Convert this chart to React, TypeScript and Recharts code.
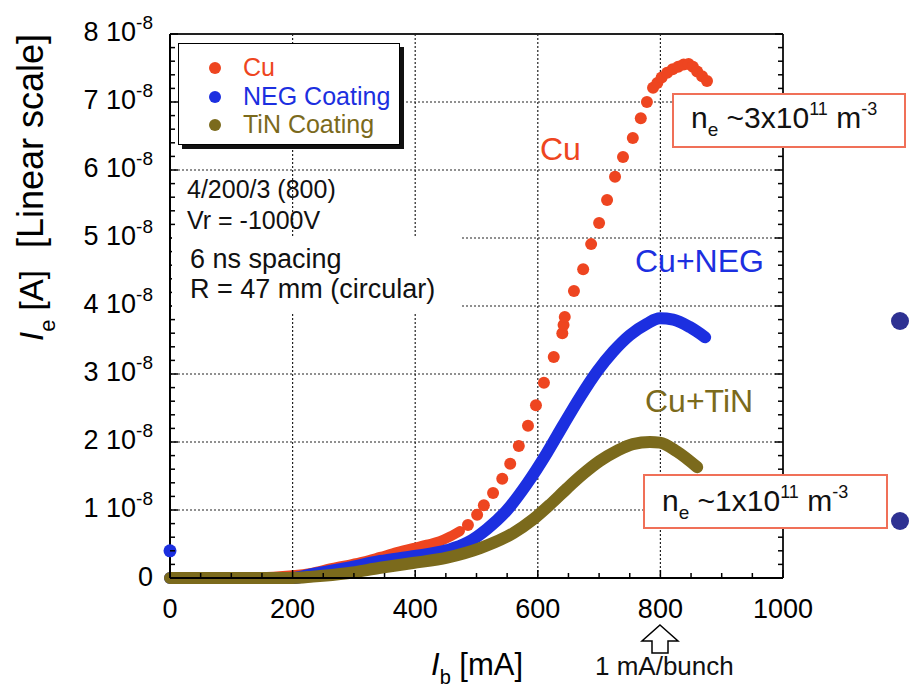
import React from 'react';
import { ComposedChart, Line, Scatter, XAxis, YAxis, CartesianGrid, Legend, ReferenceDot } from 'recharts';

// beam current I_b [mA] and electron current I_e [units of 1e-8 A]
const cuBandCurrent = [0, 100, 200, 233, 261, 289, 315, 343, 370, 396, 419, 440, 457, 473];
const cuBandSignal = [0, 0, 0.04, 0.08, 0.14, 0.19, 0.24, 0.31, 0.38, 0.44, 0.49, 0.54, 0.61, 0.69];

const cuDotCurrent = [486, 501, 512, 527, 542, 555, 569, 584, 597, 610, 626, 640, 642, 644, 659, 674, 687, 700, 713, 726, 739, 755, 768, 778, 788, 795, 802, 811, 820, 829, 838, 846, 853, 860, 868, 876];
const cuDotSignal = [0.78, 0.93, 1.07, 1.25, 1.46, 1.68, 1.94, 2.24, 2.54, 2.87, 3.25, 3.6, 3.72, 3.84, 4.22, 4.54, 4.91, 5.22, 5.56, 5.9, 6.19, 6.47, 6.76, 7.0, 7.21, 7.28, 7.36, 7.43, 7.48, 7.52, 7.55, 7.56, 7.52, 7.45, 7.38, 7.31];

const negCurrent = [0, 100, 200, 233, 289, 343, 396, 452, 485, 517, 550, 582, 615, 641, 669, 697, 723, 750, 778, 799, 821, 848, 873];
const negSignal = [0, 0, 0, 0.06, 0.15, 0.25, 0.32, 0.41, 0.52, 0.72, 1.0, 1.38, 1.84, 2.24, 2.66, 3.04, 3.33, 3.57, 3.74, 3.82, 3.8, 3.69, 3.54];
const negOrigin = { x: 0, y: 0.4 };

const tinCurrent = [0, 50, 100, 150, 200, 233, 289, 343, 396, 452, 506, 560, 592, 620, 648, 674, 701, 729, 755, 783, 799, 827, 860];
const tinSignal = [0, 0, 0, 0, 0, 0.02, 0.07, 0.15, 0.22, 0.3, 0.44, 0.66, 0.86, 1.08, 1.32, 1.53, 1.72, 1.87, 1.97, 2.0, 1.99, 1.86, 1.63];

const xMajorTicks = [0, 200, 400, 600, 800, 1000];
const yMajorTicks = [0, 1, 2, 3, 4, 5, 6, 7, 8];
const xMinorStep = 50;
const yMinorStep = 0.2;

const RED = '#ee4520';
const BLUE = '#1c2fe0';
const OLIVE = '#7b6a1c';
const FONT = '"Liberation Sans", Arial, Helvetica, sans-serif';

const legendItems = [
  { name: 'Cu', color: RED },
  { name: 'NEG Coating', color: BLUE },
  { name: 'TiN Coating', color: OLIVE },
];

const toPoints = (xs: number[], ys: number[]) => xs.map((x, i) => ({ x, y: ys[i] }));

const cuBand = toPoints(cuBandCurrent, cuBandSignal);
const cuDots = toPoints(cuDotCurrent, cuDotSignal);
const negBand = toPoints(negCurrent, negSignal);
const tinBand = toPoints(tinCurrent, tinSignal);

const xTicks: number[] = [];
for (let v = 0; v <= 1000; v += xMinorStep) xTicks.push(v);
const yTicks: number[] = [];
for (let i = 0; i <= 40; i++) yTicks.push(+(i * yMinorStep).toFixed(1));

const isMajor = (v: number, list: number[]) => list.some((m) => Math.abs(m - v) < 1e-6);

const BottomTick = (props: any) => {
  const { x, y, payload } = props;
  const major = isMajor(payload.value, xMajorTicks);
  return (
    <g>
      <line x1={x} x2={x} y1={y} y2={y - (major ? 8 : 5)} stroke="#000" strokeWidth={1.5} />
      {major && (
        <text x={x} y={y + 40} textAnchor="middle" fontSize={27} fontFamily={FONT} fill="#000">
          {payload.value}
        </text>
      )}
    </g>
  );
};

const TopTick = (props: any) => {
  const { x, y, payload } = props;
  const major = isMajor(payload.value, xMajorTicks);
  return <line x1={x} x2={x} y1={y} y2={y + (major ? 8 : 5)} stroke="#000" strokeWidth={1.5} />;
};

const LeftTick = (props: any) => {
  const { x, y, payload } = props;
  const v = payload.value;
  const major = isMajor(v, yMajorTicks);
  return (
    <g>
      <line x1={x} x2={x + (major ? 8 : 5)} y1={y} y2={y} stroke="#000" strokeWidth={1.5} />
      {major && v === 0 && (
        <text x={x - 17} y={y + 8} textAnchor="end" fontSize={27} fontFamily={FONT} fill="#000">
          0
        </text>
      )}
      {major && v !== 0 && (
        <text x={x - 17} y={y + 7} textAnchor="end" fontSize={27} fontFamily={FONT} fill="#000">
          {`${Math.round(v)} 10`}
          <tspan dy={-12} fontSize={19}>-8</tspan>
        </text>
      )}
    </g>
  );
};

const RightTick = (props: any) => {
  const { x, y, payload } = props;
  const major = isMajor(payload.value, yMajorTicks);
  return <line x1={x} x2={x - (major ? 8 : 5)} y1={y} y2={y} stroke="#000" strokeWidth={1.5} />;
};

const dot = (color: string, r: number) => (props: any) =>
  <circle cx={props.cx} cy={props.cy} r={r} fill={color} />;

const LegendBox = () => (
  <div
    style={{
      position: 'relative',
      width: 222,
      height: 102,
      boxSizing: 'border-box',
      background: '#fff',
      border: '1.5px solid #000',
      boxShadow: '4px 4px 0 #111',
      fontFamily: FONT,
    }}
  >
    {legendItems.map((item, i) => (
      <div key={item.name}>
        <span
          style={{
            position: 'absolute',
            left: 30,
            top: 18 + i * 28.5,
            width: 12,
            height: 12,
            borderRadius: 6,
            background: item.color,
          }}
        />
        <span
          style={{
            position: 'absolute',
            left: 64,
            top: 8 + i * 28.5,
            fontSize: 25,
            lineHeight: '30px',
            color: item.color,
            whiteSpace: 'nowrap',
          }}
        >
          {item.name}
        </span>
      </div>
    ))}
  </div>
);

const Annotations = () => (
  <svg
    width={910}
    height={693}
    style={{ position: 'absolute', left: 0, top: 0, pointerEvents: 'none' }}
    fontFamily={FONT}
  >
    {/* run conditions */}
    <text x={187} y={198} fontSize={25} fill="#111">4/200/3 (800)</text>
    <text x={187} y={229} fontSize={25} fill="#111">Vr = -1000V</text>
    <rect x={172} y={237} width={290} height={77} fill="#fff" />
    <text x={190} y={268} fontSize={27} fill="#111">6 ns spacing</text>
    <text x={190} y={298} fontSize={27} fill="#111">R = 47 mm (circular)</text>

    {/* series labels */}
    <text x={540} y={160} fontSize={32} fill={RED}>Cu</text>
    <text x={635} y={272} fontSize={32} fill={BLUE}>Cu+NEG</text>
    <text x={645} y={412} fontSize={32} fill={OLIVE}>Cu+TiN</text>

    {/* density boxes */}
    <rect x={673} y={94} width={232} height={53} fill="#fff" stroke="#f07058" strokeWidth={2} />
    <text x={691} y={128} fontSize={30} fill="#111">
      n<tspan fontSize={19} dy={8}>e</tspan>
      <tspan dy={-8}> ~3x10</tspan>
      <tspan fontSize={18} dy={-13}>11</tspan>
      <tspan dy={13}> m</tspan>
      <tspan fontSize={18} dy={-13}>-3</tspan>
    </text>
    <rect x={644} y={475} width={243} height={53} fill="#fff" stroke="#f07058" strokeWidth={2} />
    <text x={662} y={511} fontSize={30} fill="#111">
      n<tspan fontSize={19} dy={8}>e</tspan>
      <tspan dy={-8}> ~1x10</tspan>
      <tspan fontSize={18} dy={-13}>11</tspan>
      <tspan dy={13}> m</tspan>
      <tspan fontSize={18} dy={-13}>-3</tspan>
    </text>

    <circle cx={900} cy={321} r={9} fill="#2e3192" />
    <circle cx={900} cy={521} r={9} fill="#2e3192" />

    {/* 1 mA/bunch marker */}
    <polygon
      points="660,625 678,641 668,641 668,653 652,653 652,641 642,641"
      fill="#fff"
      stroke="#000"
      strokeWidth={1.5}
    />
    <text x={595} y={675} fontSize={26} fill="#111">1 mA/bunch</text>

    {/* axis titles */}
    <text x={431} y={675} fontSize={31} fill="#000">
      <tspan fontStyle="italic">I</tspan>
      <tspan fontSize={20} dy={9}>b</tspan>
      <tspan dy={-9}> [mA]</tspan>
    </text>
    <text transform="translate(43,341) rotate(-90)" fontSize={33} fill="#000">
      <tspan fontStyle="italic">I</tspan>
      <tspan fontSize={22} dy={12}>e</tspan>
      <tspan dy={-12}> [A]</tspan>
    </text>
    <text transform="translate(43,248) rotate(-90)" fontSize={36} fill="#000">
      [Linear scale]
    </text>
  </svg>
);

export default function App() {
  return (
    <div style={{ position: 'absolute', left: 0, top: 0, width: 910, height: 693, background: '#fff' }}>
      <ComposedChart width={910} height={693} margin={{ top: 33, right: 126, bottom: 55, left: 40 }}>
        <CartesianGrid
          horizontal
          vertical
          horizontalValues={[1, 2, 3, 4, 5, 6, 7]}
          verticalValues={[200, 400, 600, 800]}
          stroke="#222"
          strokeWidth={1.2}
          strokeDasharray="2 2"
        />
        <XAxis
          dataKey="x"
          type="number"
          domain={[0, 1000]}
          ticks={xTicks}
          interval={0}
          height={60}
          tickSize={0}
          tickMargin={0}
          tickLine={false}
          tick={<BottomTick />}
          axisLine={{ stroke: '#000', strokeWidth: 2 }}
        />
        <XAxis
          xAxisId="top"
          orientation="top"
          type="number"
          domain={[0, 1000]}
          allowDataOverflow
          ticks={xTicks}
          interval={0}
          height={1}
          tickSize={0}
          tickMargin={0}
          tickLine={false}
          tick={<TopTick />}
          axisLine={{ stroke: '#222', strokeWidth: 2 }}
        />
        <YAxis
          dataKey="y"
          type="number"
          domain={[0, 8]}
          ticks={yTicks}
          interval={0}
          width={130}
          tickSize={0}
          tickMargin={0}
          tickLine={false}
          tick={<LeftTick />}
          axisLine={{ stroke: '#000', strokeWidth: 2 }}
        />
        <YAxis
          yAxisId="right"
          orientation="right"
          type="number"
          domain={[0, 8]}
          allowDataOverflow
          ticks={yTicks}
          interval={0}
          width={1}
          tickSize={0}
          tickMargin={0}
          tickLine={false}
          tick={<RightTick />}
          axisLine={{ stroke: '#222', strokeWidth: 2 }}
        />
        <Legend
          layout="vertical"
          align="center"
          verticalAlign="middle"
          wrapperStyle={{ left: 178, top: 43, width: 226, height: 106 }}
          content={() => <LegendBox />}
        />
        <Line
          data={cuBand}
          dataKey="y"
          name="Cu"
          type="monotone"
          stroke={RED}
          strokeWidth={10}
          strokeLinecap="round"
          strokeLinejoin="round"
          dot={false}
          activeDot={false}
          isAnimationActive={false}
        />
        <Scatter data={cuDots} name="Cu dots" fill={RED} shape={dot(RED, 6)} isAnimationActive={false} />
        <Line
          data={negBand}
          dataKey="y"
          name="NEG Coating"
          type="monotone"
          stroke={BLUE}
          strokeWidth={12}
          strokeLinecap="round"
          strokeLinejoin="round"
          dot={false}
          activeDot={false}
          isAnimationActive={false}
        />
        <ReferenceDot
          x={negOrigin.x}
          y={negOrigin.y}
          r={6.5}
          fill={BLUE}
          stroke="none"
          ifOverflow="visible"
        />
        <Line
          data={tinBand}
          dataKey="y"
          name="TiN Coating"
          type="monotone"
          stroke={OLIVE}
          strokeWidth={12}
          strokeLinecap="round"
          strokeLinejoin="round"
          dot={false}
          activeDot={false}
          isAnimationActive={false}
        />
      </ComposedChart>
      <Annotations />
    </div>
  );
}
